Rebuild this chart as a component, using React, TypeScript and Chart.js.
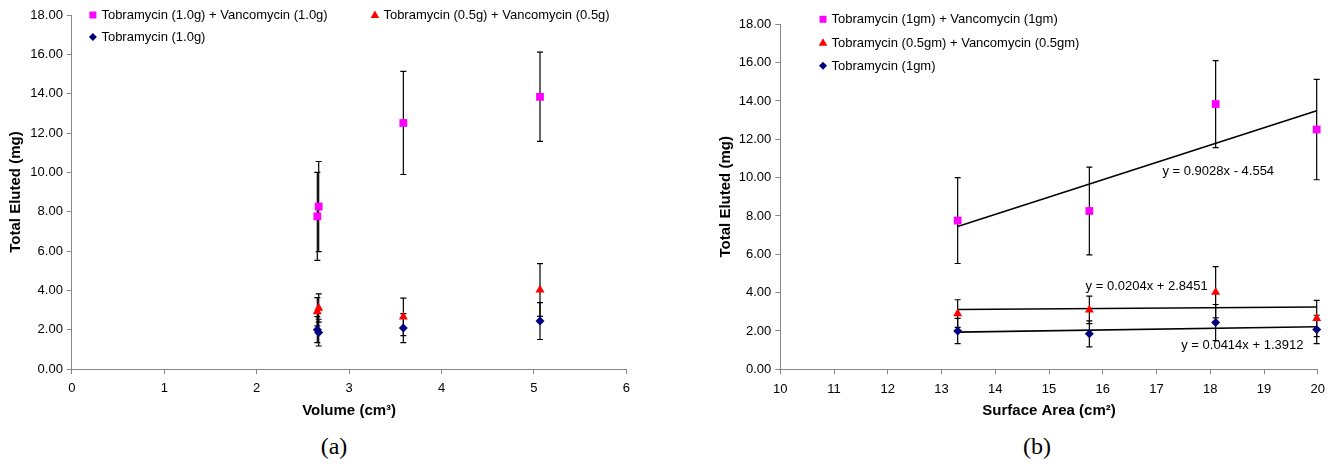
import React, { useEffect, useRef } from 'react';
import { Chart, registerables } from 'chart.js';

Chart.register(...registerables);

// ---------- data ----------
const volumes = [2.656, 2.671, 5.066, 3.587];
const surfaceAreas = [13.3, 15.75, 18.1, 19.98];

const comboHighValues = [7.76, 8.26, 13.84, 12.51];
const comboHighErrors = [2.24, 2.29, 2.27, 2.62];
const comboLowValues = [2.91, 3.1, 4.02, 2.65];
const comboLowErrors = [0.72, 0.72, 1.34, 0.95];
const tobraValues = [2.0, 1.85, 2.44, 2.08];
const tobraErrors = [0.66, 0.68, 0.94, 0.74];

const legendLabelsA = [
  'Tobramycin (1.0g) + Vancomycin (1.0g)',
  'Tobramycin (0.5g) + Vancomycin (0.5g)',
  'Tobramycin (1.0g)',
];
const legendLabelsB = [
  'Tobramycin (1gm) + Vancomycin (1gm)',
  'Tobramycin (0.5gm) + Vancomycin (0.5gm)',
  'Tobramycin (1gm)',
];

const trendSlopes = [0.9028, 0.0204, 0.0414];
const trendIntercepts = [-4.554, 2.8451, 1.3912];

const volumeRange = [0, 6];
const areaRange = [10, 20];
const yRange = [0, 18];

const titleVolume = 'Volume (cm³)';
const titleArea = 'Surface Area (cm²)';
const titleY = 'Total Eluted (mg)';

// ---------- styling ----------
const FONT = "'Liberation Sans', Arial, sans-serif";
const PINK = '#FF00FF';
const RED = '#FF0000';
const NAVY = '#000080';
const AXIS = '#868686';

type MarkerKind = 'square' | 'triangle' | 'diamond';

function drawMarker(ctx: CanvasRenderingContext2D, kind: MarkerKind, x: number, y: number, color: string) {
  ctx.save();
  ctx.fillStyle = color;
  ctx.beginPath();
  if (kind === 'square') {
    ctx.rect(x - 3.5, y - 3.5, 7, 7);
  } else if (kind === 'triangle') {
    ctx.moveTo(x, y - 4.5);
    ctx.lineTo(x + 4.3, y + 3);
    ctx.lineTo(x - 4.3, y + 3);
    ctx.closePath();
  } else {
    ctx.moveTo(x, y - 4);
    ctx.lineTo(x + 4, y);
    ctx.lineTo(x, y + 4);
    ctx.lineTo(x - 4, y);
    ctx.closePath();
  }
  ctx.fill();
  ctx.restore();
}

const errorBarPlugin = {
  id: 'errorBarsCustom',
  beforeDatasetsDraw(chart: any) {
    const ctx = chart.ctx as CanvasRenderingContext2D;
    const ys = chart.scales.y;
    chart.data.datasets.forEach((ds: any, i: number) => {
      const errs: number[] | undefined = ds.errors;
      if (!errs) return;
      const meta = chart.getDatasetMeta(i);
      ctx.save();
      ctx.strokeStyle = '#000';
      ctx.lineWidth = 1.2;
      meta.data.forEach((pt: any, j: number) => {
        const v = ds.data[j].y;
        const e = errs[j];
        const top = ys.getPixelForValue(v + e);
        const bot = ys.getPixelForValue(v - e);
        const px = pt.x;
        ctx.beginPath();
        ctx.moveTo(px, top);
        ctx.lineTo(px, bot);
        ctx.moveTo(px - 3, top);
        ctx.lineTo(px + 3, top);
        ctx.moveTo(px - 3, bot);
        ctx.lineTo(px + 3, bot);
        ctx.stroke();
      });
      ctx.restore();
    });
  },
};

interface LegendSpot { dx: number; dy: number }
interface TrendLabel { x: number; y: number; text: string }

function makeLegendPlugin(spots: LegendSpot[]) {
  return {
    id: 'insideLegend',
    afterDraw(chart: any) {
      const ctx = chart.ctx as CanvasRenderingContext2D;
      const area = chart.chartArea;
      const items = chart.data.datasets.filter((d: any) => d.marker);
      ctx.save();
      ctx.font = `13px ${FONT}`;
      ctx.fillStyle = '#000';
      ctx.textBaseline = 'middle';
      ctx.textAlign = 'left';
      items.forEach((ds: any, k: number) => {
        const s = spots[k];
        if (!s) return;
        const mx = area.left + s.dx;
        const my = area.top + s.dy;
        drawMarker(ctx, ds.marker, mx, my, ds.backgroundColor);
        ctx.fillStyle = '#000';
        ctx.fillText(ds.label, mx + 8.5, my + 0.5);
      });
      ctx.restore();
    },
  };
}

function makeTrendLabelPlugin(labels: TrendLabel[]) {
  return {
    id: 'trendLabels',
    afterDraw(chart: any) {
      const ctx = chart.ctx as CanvasRenderingContext2D;
      const xs = chart.scales.x;
      const ys = chart.scales.y;
      ctx.save();
      ctx.font = `13px ${FONT}`;
      ctx.fillStyle = '#000';
      ctx.textBaseline = 'middle';
      ctx.textAlign = 'left';
      labels.forEach((l) => {
        ctx.fillText(l.text, xs.getPixelForValue(l.x), ys.getPixelForValue(l.y));
      });
      ctx.restore();
    },
  };
}

function fmtTrend(m: number, b: number) {
  return `y = ${m}x ${b < 0 ? '-' : '+'} ${Math.abs(b)}`;
}

const pointDataset = (label: string, xs: number[], ys: number[], errs: number[], color: string, marker: MarkerKind) => {
  const style = marker === 'square' ? 'rect' : marker === 'triangle' ? 'triangle' : 'rectRot';
  const radius = marker === 'square' ? 5.5 : marker === 'triangle' ? 5.2 : 4.5;
  return {
    label,
    data: xs.map((x, i) => ({ x, y: ys[i] })),
    errors: errs,
    marker,
    backgroundColor: color,
    borderColor: color,
    borderWidth: 0,
    pointStyle: style,
    pointRadius: radius,
    pointHoverRadius: radius,
    showLine: false,
    clip: false as any,
  };
};

interface PanelProps {
  xs: number[];
  xRange: number[];
  xTitle: string;
  labels: string[];
  legendSpots: LegendSpot[];
  withTrend: boolean;
  width: number;
  height: number;
  yAxisWidth: number;
  yTitlePad: number;
  padTop: number;
  padRight: number;
  xAxisHeight: number;
}

function Panel(p: PanelProps) {
  const ref = useRef<HTMLCanvasElement | null>(null);
  useEffect(() => {
    if (!ref.current) return;
    const datasets: any[] = [
      pointDataset(p.labels[0], p.xs, comboHighValues, comboHighErrors, PINK, 'square'),
      pointDataset(p.labels[1], p.xs, comboLowValues, comboLowErrors, RED, 'triangle'),
      pointDataset(p.labels[2], p.xs, tobraValues, tobraErrors, NAVY, 'diamond'),
    ];
    const plugins: any[] = [errorBarPlugin, makeLegendPlugin(p.legendSpots)];
    if (p.withTrend) {
      const x0 = Math.min(...p.xs);
      const x1 = Math.max(...p.xs);
      trendSlopes.forEach((m, i) => {
        const b = trendIntercepts[i];
        datasets.push({
          label: 'trend' + i,
          data: [
            { x: x0, y: m * x0 + b },
            { x: x1, y: m * x1 + b },
          ],
          showLine: true,
          borderColor: '#000',
          borderWidth: 1.6,
          pointRadius: 0,
          pointHoverRadius: 0,
          clip: false,
        });
      });
      plugins.push(
        makeTrendLabelPlugin([
          { x: 17.11, y: 10.34, text: fmtTrend(trendSlopes[0], trendIntercepts[0]) },
          { x: 15.68, y: 4.35, text: fmtTrend(trendSlopes[1], trendIntercepts[1]) },
          { x: 17.46, y: 1.27, text: fmtTrend(trendSlopes[2], trendIntercepts[2]) },
        ])
      );
    }
    const chart = new Chart(ref.current, {
      type: 'scatter',
      data: { datasets },
      plugins,
      options: {
        responsive: false,
        animation: false,
        devicePixelRatio: 1,
        layout: { padding: { top: p.padTop, right: p.padRight, left: 0, bottom: 0 } },
        plugins: { legend: { display: false }, tooltip: { enabled: false } },
        scales: {
          x: {
            type: 'linear',
            min: p.xRange[0],
            max: p.xRange[1],
            ticks: { stepSize: 1, color: '#000', font: { family: FONT, size: 13 }, padding: 7 },
            grid: { drawOnChartArea: false, drawTicks: true, tickLength: 5, color: AXIS },
            border: { color: AXIS, width: 1 },
            title: {
              display: true,
              text: p.xTitle,
              color: '#000',
              font: { family: FONT, size: 15, weight: 'bold' },
              padding: { top: 0, bottom: 5 },
            },
            afterFit: (s: any) => {
              s.height = p.xAxisHeight;
            },
          },
          y: {
            type: 'linear',
            min: yRange[0],
            max: yRange[1],
            ticks: {
              stepSize: 2,
              color: '#000',
              font: { family: FONT, size: 13 },
              padding: 4,
              callback: (v: any) => Number(v).toFixed(2),
            },
            grid: { drawOnChartArea: false, drawTicks: true, tickLength: 5, color: AXIS },
            border: { color: AXIS, width: 1 },
            title: {
              display: true,
              text: titleY,
              color: '#000',
              font: { family: FONT, size: 15, weight: 'bold' },
              padding: { top: p.yTitlePad, bottom: 0 },
            },
            afterFit: (s: any) => {
              s.width = p.yAxisWidth;
            },
          },
        },
      } as any,
    });
    return () => chart.destroy();
  }, []);
  return <canvas ref={ref} width={p.width} height={p.height} style={{ display: 'block' }} />;
}

export default function App() {
  const captionStyle: React.CSSProperties = {
    position: 'absolute',
    top: 430,
    fontFamily: "'Liberation Serif', 'Times New Roman', serif",
    fontSize: 24,
    lineHeight: '32px',
    width: 60,
    textAlign: 'center',
    color: '#000',
  };
  return (
    <div style={{ position: 'absolute', left: 0, top: 0, width: 1332, height: 466, background: '#fff', overflow: 'hidden' }}>
      <div style={{ position: 'absolute', left: 0, top: 0 }}>
        <Panel
          xs={volumes}
          xRange={volumeRange}
          xTitle={titleVolume}
          labels={legendLabelsA}
          legendSpots={[
            { dx: 21, dy: 0 },
            { dx: 303, dy: 0 },
            { dx: 21, dy: 22 },
          ]}
          withTrend={false}
          width={660}
          height={425}
          yAxisWidth={71.9}
          yTitlePad={7}
          padTop={15}
          padRight={33.7}
          xAxisHeight={56}
        />
      </div>
      <div style={{ position: 'absolute', left: 660, top: 0 }}>
        <Panel
          xs={surfaceAreas}
          xRange={areaRange}
          xTitle={titleArea}
          labels={legendLabelsB}
          legendSpots={[
            { dx: 42.7, dy: -5 },
            { dx: 42.7, dy: 18.4 },
            { dx: 42.7, dy: 41.4 },
          ]}
          withTrend={true}
          width={672}
          height={425}
          yAxisWidth={120.3}
          yTitlePad={57}
          padTop={24.3}
          padRight={10.3}
          xAxisHeight={55.7}
        />
      </div>
      <div style={{ ...captionStyle, left: 334 - 30 }}>(a)</div>
      <div style={{ ...captionStyle, left: 1037 - 30 }}>(b)</div>
    </div>
  );
}
